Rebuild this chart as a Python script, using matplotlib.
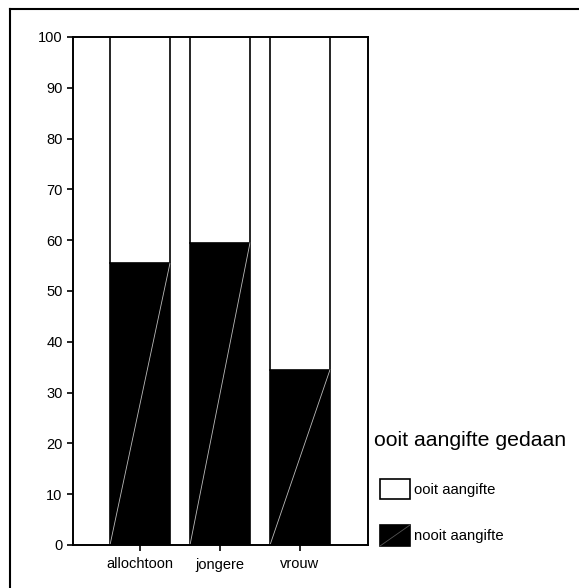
import matplotlib.pyplot as plt
from matplotlib.patches import Rectangle
from matplotlib.lines import Line2D

plt.rcParams['font.family'] = ['Liberation Sans', 'DejaVu Sans']

categorieen = ['allochtoon', 'jongere', 'vrouw']
nooit = [55.5, 59.5, 34.5]
ooit = [100 - v for v in nooit]
yticks = [0, 10, 20, 30, 40, 50, 60, 70, 80, 90, 100]

W, H = 579, 588
fig = plt.figure(figsize=(W / 100, H / 100), dpi=100)

def fx(x):
    return x / W

def fy(y):
    return 1 - y / H

# kader: alleen boven en links zichtbaar
fig.add_artist(Line2D([fx(10), 1], [fy(9), fy(9)], transform=fig.transFigure, color='black', lw=1.5))
fig.add_artist(Line2D([fx(10), fx(10)], [fy(9), 0], transform=fig.transFigure, color='black', lw=1.5))

ax = fig.add_axes([fx(73), fy(545), fx(368) - fx(73), fy(37) - fy(545)])
x = list(range(len(categorieen)))
breedte = 0.75

ax.bar(x, nooit, width=breedte, color='black', edgecolor='black', lw=1.2)
ax.bar(x, ooit, width=breedte, bottom=nooit, color='white', edgecolor='black', lw=1.2)

# dunne diagonaal in de zwarte balken
for xi, v in zip(x, nooit):
    ax.plot([xi - breedte / 2, xi + breedte / 2], [0, v], color='#bbbbbb', lw=0.6)

ax.set_xlim(-0.8375, 2.85)
ax.set_ylim(0, 100)
ax.set_yticks(yticks)
ax.set_xticks(x)
ax.set_xticklabels(categorieen)
ax.tick_params(axis='both', labelsize=10.5, length=4, width=1.2, direction='out')
ax.tick_params(axis='x', pad=5)
for s in ax.spines.values():
    s.set_linewidth(1.4)

# legenda
fig.text(fx(374), fy(440), 'ooit aangifte gedaan', fontsize=15.3, va='center', ha='left')
fig.add_artist(Rectangle((fx(380), fy(499)), fx(410) - fx(380), fy(479) - fy(499),
                         transform=fig.transFigure, facecolor='white', edgecolor='black', lw=1.2))
fig.text(fx(414), fy(490), 'ooit aangifte', fontsize=10.7, va='center', ha='left')
fig.add_artist(Rectangle((fx(380), fy(546)), fx(410) - fx(380), fy(525) - fy(546),
                         transform=fig.transFigure, facecolor='black', edgecolor='black', lw=1.2))
fig.add_artist(Line2D([fx(380), fx(410)], [fy(546), fy(525)], transform=fig.transFigure,
                      color='#555555', lw=0.6))
fig.text(fx(414), fy(536), 'nooit aangifte', fontsize=10.7, va='center', ha='left')

fig.savefig('out.png', dpi=100)
